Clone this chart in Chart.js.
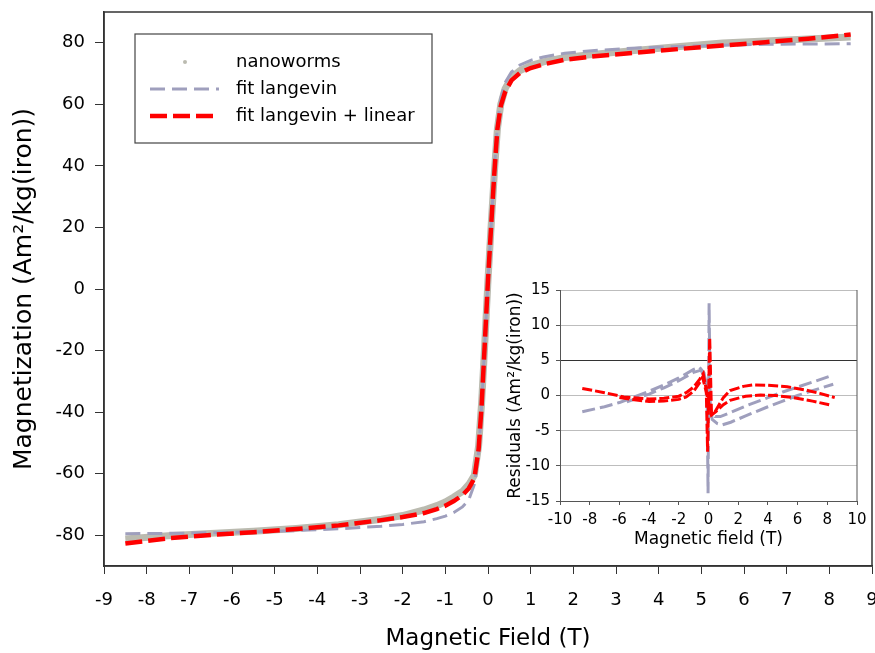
<!DOCTYPE html>
<html>
<head>
<title>Magnetization of nanoworms</title>
<script src="https://cdn.jsdelivr.net/npm/chart.js"></script>
<style>
    body { margin: 0; background: #fff; }
    #wrap { position: relative; width: 875px; height: 653px; }
    #inset { position: absolute; left: 495px; top: 282px; }
</style>
</head>
<body>
<div id="wrap">
    <canvas id="mainChart" width="875" height="653"></canvas>
    <canvas id="inset" width="372" height="270"></canvas>
</div>
<script>
    // Main curve: field (T) vs magnetization (Am2/kg(iron))
    const field = [-8.5, -7.5, -6.5, -5.5, -4.5, -3.5, -2.5, -2, -1.5, -1.2, -1, -0.8, -0.6, -0.45, -0.32,
        -0.22, -0.15, -0.08, 0, 0.08, 0.15, 0.22, 0.3, 0.4, 0.55, 0.75, 1, 1.3, 1.8, 2.5, 3.5, 4.5, 5.5, 6.5, 7.5, 8.5];
    const nanoworms = [-81.2, -80.2, -79.4, -78.7, -77.8, -76.6, -74.8, -73.6, -71.8, -70.4, -69.2, -67.6, -65.8, -63.5, -60.5,
        -51, -37, -19, 3, 22, 38, 52, 60, 65, 68.8, 71, 72.6, 73.8, 75.2, 76.3, 77.6, 78.8, 79.9, 80.6, 81.2, 81.9];
    const fitLangevin = [-79.5, -79.4, -79.2, -78.9, -78.5, -77.9, -77.1, -76.5, -75.6, -74.6, -73.8, -72.6, -70.8, -68.5, -63.5,
        -53, -38, -19, 3, 22, 39, 53, 62, 67, 70.5, 72.8, 74.3, 75.4, 76.6, 77.5, 78.3, 78.8, 79.2, 79.5, 79.6, 79.7];
    const fitLangevinLinear = [-82.7, -81.0, -79.9, -79.0, -78.0, -76.8, -75.1, -74.1, -72.8, -71.5, -70.4, -68.9, -67.0, -64.8, -61.5,
        -52, -38, -19, 3, 22, 38, 52, 59.5, 64, 67.8, 70.2, 71.8, 73, 74.5, 75.6, 76.8, 78, 79.1, 80.2, 81.3, 82.7];
    const yTicksMain = [-80, -60, -40, -20, 0, 20, 40, 60, 80];

    // Inset: residuals, two sweep branches per fit
    const resLangA_x = [-8.5, -7, -6, -5, -4, -3, -2, -1, -0.6, -0.3, -0.1, -0.03, 0.04, 0.12, 0.45, 0.8, 1.5, 2.5, 4, 5, 6, 7, 8.4];
    const resLangA_y = [-2.3, -1.6, -1.0, -0.2, 0.6, 1.5, 2.5, 3.7, 4.0, 3.2, 1.0, -13.9, 13.1, -2.0, -3.0, -3.0, -2.4, -1.5, -0.3, 0.5, 1.2, 1.9, 2.9];
    const resLangB_x = [-5.5, -4, -3, -2, -1, -0.5, -0.15, 0.25, 0.6, 0.9, 1.5, 2.5, 4, 5, 6, 7, 8.4];
    const resLangB_y = [-0.9, 0.2, 1.1, 2.1, 3.3, 3.6, 2.0, -3.4, -4.0, -4.2, -3.8, -2.9, -1.6, -0.8, 0.0, 0.7, 1.6];
    const resLinA_x = [-8.5, -7, -5.7, -4, -3, -2, -1.5, -1, -0.6, -0.35, -0.15, -0.06, 0.08, 0.2, 0.44, 1, 1.45, 2.35, 3, 4, 5.3, 6.5, 7.5, 8.5];
    const resLinA_y = [1.0, 0.4, -0.2, -0.5, -0.4, -0.1, 0.4, 1.2, 2.3, 3.1, 0.8, -8.0, 8.2, -2.5, -2.3, -0.3, 0.7, 1.3, 1.5, 1.45, 1.25, 0.8, 0.3, -0.3];
    const resLinB_x = [-6, -5, -4, -3, -2, -1.5, -1, -0.6, -0.4, -0.15, 0.2, 0.5, 1, 1.45, 2.5, 3.5, 4.5, 5.7, 7, 8.3];
    const resLinB_y = [-0.3, -0.6, -0.85, -0.8, -0.55, -0.2, 0.6, 1.8, 2.6, 0.5, -2.8, -2.3, -1.3, -0.7, -0.1, 0.07, 0.0, -0.3, -0.8, -1.4];

    const pts = (xs, ys) => xs.map((x, i) => ({ x: x, y: ys[i] }));

    Chart.defaults.font.family = '"DejaVu Sans", sans-serif';
    Chart.defaults.color = '#000';

    const GRAY = '#bbbbb0';
    const LAVENDER = '#9f9fbd';
    const RED = '#ff0000';

    // box round the plot area
    const frame = {
        id: 'frame',
        afterDraw(chart) {
            const { ctx, chartArea: a } = chart;
            ctx.save();
            ctx.strokeStyle = '#333';
            ctx.lineWidth = 1.5;
            ctx.strokeRect(a.left, a.top, a.right - a.left, a.bottom - a.top);
            ctx.restore();
        }
    };

    // legend drawn inside the plot, top left
    const legendBox = {
        id: 'legendBox',
        afterDraw(chart) {
            const { ctx, chartArea: a } = chart;
            const x0 = a.left + 31, y0 = a.top + 22, w = 297, h = 109;
            ctx.save();
            ctx.fillStyle = '#fff';
            ctx.fillRect(x0, y0, w, h);
            ctx.strokeStyle = '#444';
            ctx.lineWidth = 1.2;
            ctx.strokeRect(x0, y0, w, h);
            ctx.font = '18px "DejaVu Sans"';
            ctx.textBaseline = 'middle';
            chart.data.datasets.forEach((ds, i) => {
                const y = y0 + 28 + i * 27;
                if (ds.legendDot) {
                    ctx.fillStyle = ds.borderColor;
                    ctx.beginPath();
                    ctx.arc(x0 + 50, y, 2, 0, Math.PI * 2);
                    ctx.fill();
                } else {
                    ctx.strokeStyle = ds.borderColor;
                    ctx.lineWidth = ds.legendWidth;
                    ctx.setLineDash(ds.borderDash);
                    ctx.beginPath();
                    ctx.moveTo(x0 + 15, y);
                    ctx.lineTo(x0 + 84, y);
                    ctx.stroke();
                    ctx.setLineDash([]);
                }
                ctx.fillStyle = '#000';
                ctx.fillText(ds.label, x0 + 101, y);
            });
            ctx.restore();
        }
    };

    new Chart(document.getElementById('mainChart'), {
        type: 'scatter',
        data: {
            datasets: [
                {
                    label: 'nanoworms',
                    data: pts(field, nanoworms),
                    showLine: true,
                    borderColor: GRAY,
                    borderWidth: 7,
                    pointRadius: 0,
                    legendDot: true,
                    order: 3
                },
                {
                    label: 'fit langevin',
                    data: pts(field, fitLangevin),
                    showLine: true,
                    borderColor: LAVENDER,
                    borderWidth: 3,
                    borderDash: [15, 7],
                    pointRadius: 0,
                    legendWidth: 3,
                    order: 2
                },
                {
                    label: 'fit langevin + linear',
                    data: pts(field, fitLangevinLinear),
                    showLine: true,
                    borderColor: RED,
                    borderWidth: 4.5,
                    borderDash: [17, 6],
                    pointRadius: 0,
                    legendWidth: 4.5,
                    order: 1
                }
            ]
        },
        options: {
            responsive: false,
            animation: false,
            layout: { padding: { left: 0, right: 3, top: 12, bottom: 0 } },
            plugins: { legend: { display: false }, tooltip: { enabled: false } },
            scales: {
                x: {
                    type: 'linear',
                    min: -9,
                    max: 9,
                    ticks: { stepSize: 1, font: { size: 18 }, padding: 16, maxRotation: 0 },
                    grid: { drawOnChartArea: false, tickLength: 8, color: '#333' },
                    border: { color: '#333', width: 1.5 },
                    title: { display: true, text: 'Magnetic Field (T)', font: { size: 23 }, padding: { top: 0, bottom: 0 } },
                    afterFit(scale) { scale.height = 87; scale.paddingLeft = 0; scale.paddingRight = 0; }
                },
                y: {
                    min: -90,
                    max: 90,
                    afterBuildTicks(scale) { scale.ticks = yTicksMain.map(v => ({ value: v })); },
                    ticks: { font: { size: 18 }, padding: 10 },
                    grid: { drawOnChartArea: false, tickLength: 9, color: '#333' },
                    border: { color: '#333', width: 1.5 },
                    title: { display: true, text: 'Magnetization (Am²/kg(iron))', font: { size: 25 }, padding: { top: 9, bottom: 0 } },
                    afterFit(scale) { scale.width = 104; scale.paddingTop = 0; scale.paddingBottom = 0; }
                }
            }
        },
        plugins: [frame, legendBox]
    });

    // white backing and right edge of the inset plot
    const insetEdge = {
        id: 'insetEdge',
        beforeDraw(chart) {
            const { ctx, width, height } = chart;
            ctx.save();
            ctx.fillStyle = '#fff';
            ctx.fillRect(0, 0, width, height);
            ctx.restore();
        },
        afterDraw(chart) {
            const { ctx, chartArea: a } = chart;
            ctx.save();
            ctx.strokeStyle = '#555';
            ctx.lineWidth = 1;
            ctx.beginPath();
            ctx.moveTo(a.right, a.top);
            ctx.lineTo(a.right, a.bottom);
            ctx.stroke();
            ctx.restore();
        }
    };

    new Chart(document.getElementById('inset'), {
        type: 'scatter',
        data: {
            datasets: [
                { data: pts(resLinA_x, resLinA_y), borderColor: RED, borderWidth: 3, borderDash: [10, 3], order: 1 },
                { data: pts(resLinB_x, resLinB_y), borderColor: RED, borderWidth: 3, borderDash: [10, 3], order: 2 },
                { data: pts(resLangA_x, resLangA_y), borderColor: LAVENDER, borderWidth: 3, borderDash: [13, 5], order: 3 },
                { data: pts(resLangB_x, resLangB_y), borderColor: LAVENDER, borderWidth: 3, borderDash: [13, 5], order: 4 }
            ].map(d => Object.assign({ showLine: true, pointRadius: 0 }, d))
        },
        options: {
            responsive: false,
            animation: false,
            layout: { padding: { left: 0, right: 10, top: 8, bottom: 0 } },
            plugins: { legend: { display: false }, tooltip: { enabled: false } },
            scales: {
                x: {
                    type: 'linear',
                    min: -10,
                    max: 10,
                    ticks: { stepSize: 2, font: { size: 15 }, padding: 6, maxRotation: 0 },
                    grid: { drawOnChartArea: false, tickLength: 4, color: '#555' },
                    border: { color: '#555' },
                    title: { display: true, text: 'Magnetic field (T)', font: { size: 17 }, padding: { top: 0, bottom: 2 } },
                    afterFit(scale) { scale.height = 51; scale.paddingLeft = 0; scale.paddingRight = 0; }
                },
                y: {
                    min: -15,
                    max: 15,
                    ticks: { stepSize: 5, font: { size: 15 }, padding: 6 },
                    grid: {
                        color: c => (c.tick && c.tick.value === 5) ? '#333' : '#bdbdbd',
                        tickColor: '#555',
                        tickLength: 4
                    },
                    border: { color: '#555' },
                    title: { display: true, text: 'Residuals (Am²/kg(iron))', font: { size: 17 }, padding: { top: 10, bottom: 0 } },
                    afterFit(scale) { scale.width = 65; scale.paddingTop = 0; scale.paddingBottom = 0; }
                }
            }
        },
        plugins: [insetEdge]
    });
</script>
</body>
</html>
